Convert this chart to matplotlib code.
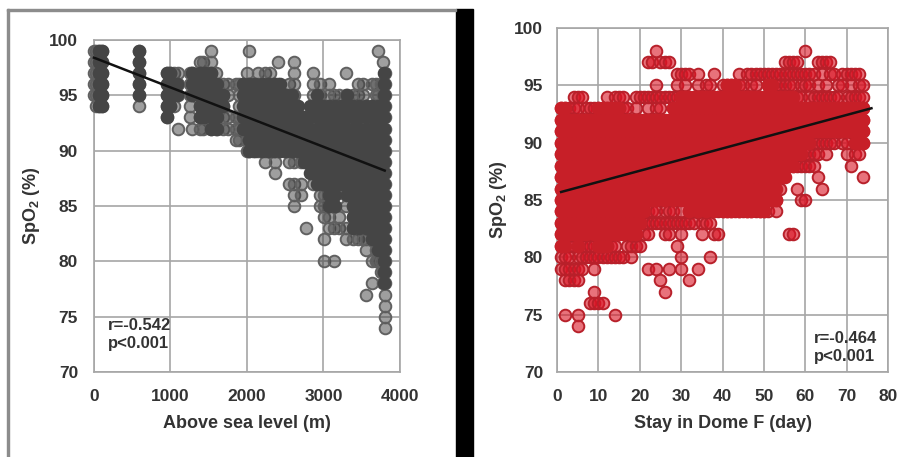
import matplotlib
matplotlib.use('Agg')
import matplotlib.pyplot as plt
from matplotlib.patches import Rectangle

plt.rcParams['font.family'] = ['Liberation Sans', 'DejaVu Sans']
plt.rcParams['font.weight'] = 'bold'
plt.rcParams['mathtext.fontset'] = 'custom'
plt.rcParams['mathtext.bf'] = 'Liberation Sans:bold'
plt.rcParams['mathtext.rm'] = 'Liberation Sans:bold'

# left panel: altitude (m) and the SpO2 readings seen at that altitude
alt_m = [0, 30, 60, 100, 590, 950, 1000, 1050, 1100, 1250, 1280, 1380, 1420, 1530,
         1600, 1680, 1750, 1850, 1900, 2000, 2030, 2080, 2150, 2230, 2300, 2360,
         2400, 2480, 2550, 2620, 2700, 2770, 2860, 2950, 3010, 3070, 3140, 3200,
         3300, 3380, 3450, 3520, 3560, 3630, 3680, 3710, 3750, 3780, 3800]
alt_spo2 = [
    [99, 98, 97, 96, 95],
    [99, 98, 97, 96, 95, 94],
    [99, 98, 97, 96, 95, 94],
    [99, 98, 97, 96, 95, 94],
    [99, 98, 97, 96, 95, 94],
    [97, 96, 95, 94, 93],
    [97, 96, 95, 94],
    [97, 96, 95, 94],
    [97, 96, 95, 92],
    [97, 96, 95, 94, 93],
    [97, 96, 95, 92],
    [98, 97, 96, 95, 94, 93, 92],
    [98, 97, 96, 95, 94, 93, 92],
    [99, 98, 97, 96, 95, 94, 92],
    [97, 96, 95, 94, 93, 92],
    [96, 95, 94, 93, 92],
    [96, 95, 93, 92],
    [96, 93, 92, 91],
    [96, 95, 94, 93, 92, 91],
    [97, 96, 95, 94, 93, 92, 91, 90],
    [99, 96, 95, 94, 93, 92, 91, 90],
    [96, 95, 94, 93, 92, 91, 90],
    [97, 96, 95, 94, 93, 92, 91, 90],
    [97, 96, 95, 94, 93, 92, 91, 90, 89],
    [97, 96, 95, 94, 93, 92, 91, 90],
    [96, 95, 94, 93, 92, 91, 90, 89, 88],
    [98, 96, 95, 94, 93, 92, 91, 90],
    [95, 94, 93, 92, 91, 90],
    [96, 95, 94, 93, 92, 91, 90, 89, 87],
    [98, 97, 96, 95, 93, 92, 91, 90, 89, 87, 86, 85],
    [93, 92, 91, 90, 89, 87, 86],
    [92, 91, 90, 83],
    [97, 96, 95, 94, 93, 92, 91, 90, 89, 88, 87],
    [96, 95, 94, 93, 92, 91, 90, 89, 88, 87, 86, 85],
    [94, 93, 92, 91, 90, 89, 88, 87, 86, 85, 84, 82, 80],
    [96, 95, 94, 93, 92, 91, 90, 89, 88, 87, 85, 84, 83],
    [95, 94, 93, 92, 91, 90, 89, 88, 87, 85, 83, 80],
    [95, 94, 93, 92, 91, 90, 89, 88, 87, 84, 83],
    [97, 95, 94, 93, 92, 91, 90, 89, 88, 87, 86, 85, 83, 82],
    [95, 94, 93, 92, 91, 90, 89, 88, 87, 86, 85, 84, 83, 82],
    [96, 95, 94, 92, 91, 90, 88, 87, 86, 85, 84, 83, 82],
    [96, 95, 94, 93, 92, 91, 90, 89, 88, 87, 86, 85, 84, 83, 82],
    [94, 93, 92, 91, 90, 88, 87, 86, 85, 84, 83, 82, 81, 77],
    [96, 94, 93, 92, 91, 90, 89, 88, 87, 86, 85, 84, 83, 82, 80, 78],
    [96, 95, 94, 93, 92, 91, 90, 89, 88, 87, 86, 85, 84, 83, 82, 81, 80],
    [99, 95, 94, 93, 92, 91, 90, 89, 88, 87, 86, 85, 84, 83, 82, 81, 80],
    [96, 94, 93, 92, 91, 90, 89, 88, 87, 86, 85, 84, 83, 82, 81, 80, 79],
    [98, 96, 95, 94, 93, 92, 91, 90, 89, 88, 87, 86, 85, 84, 83, 82, 81, 80, 79, 78],
    [97, 96, 95, 94, 93, 92, 91, 90, 89, 88, 87, 86, 85, 84, 83, 82, 81, 80, 79, 78, 77, 76, 75, 74],
]
# where readings pile up and the cloud goes solid: column, top and bottom of the pile
alt_core_x = [60, 100, 590, 950, 1000, 1080, 1280, 1380, 1450, 1530, 1610, 1690, 1950, 2030,
              2110, 2190, 2270, 2350, 2430, 2510, 2590, 2670, 2750, 2830, 2910, 2990, 3070,
              3150, 3230, 3310, 3390, 3470, 3550, 3630, 3710, 3790]
alt_core_top = [99, 99, 99, 97, 97, 96, 97, 97, 97, 97, 96, 95, 96, 96,
                96, 96, 96, 96, 96, 95, 95, 94, 93, 94, 95, 94, 94,
                94, 94, 95, 94, 94, 94, 94, 94, 97]
alt_core_bottom = [94, 94, 95, 93, 94, 95, 95, 93, 93, 92, 92, 94, 92, 90,
                   90, 90, 90, 90, 90, 90, 90, 90, 89, 88, 87, 87, 85,
                   85, 87, 86, 83, 83, 83, 82, 81, 78]
alt_fit_x = [0, 3800]
alt_fit_y = [98.4, 88.2]

# right panel: day of stay and the SpO2 readings seen on that day
stay_day = list(range(1, 75))
stay_spo2 = [
    [93, 92, 91, 90, 89, 88, 87, 86, 85, 84, 83, 82, 81, 80, 79],
    [93, 92, 91, 90, 89, 88, 87, 86, 85, 84, 83, 82, 80, 79, 78, 75],
    [93, 92, 91, 90, 89, 88, 87, 86, 85, 84, 83, 82, 81, 80, 79, 78],
    [94, 93, 92, 91, 90, 89, 88, 87, 86, 85, 84, 83, 82, 81, 79, 78],
    [94, 93, 92, 91, 90, 89, 88, 87, 86, 85, 84, 83, 82, 81, 80, 79, 78, 75, 74],
    [94, 92, 91, 90, 89, 88, 87, 86, 85, 84, 83, 82, 81, 80, 79],
    [93, 92, 91, 90, 89, 88, 87, 86, 85, 84, 83, 82, 81, 80],
    [93, 91, 90, 89, 88, 87, 86, 85, 84, 83, 82, 81, 80, 76],
    [93, 92, 91, 90, 89, 88, 87, 86, 85, 84, 83, 82, 81, 80, 79, 77, 76],
    [93, 92, 91, 90, 89, 88, 87, 86, 85, 84, 83, 82, 81, 80, 76],
    [93, 92, 91, 90, 89, 88, 87, 86, 85, 84, 82, 81, 80, 76],
    [94, 93, 91, 90, 89, 88, 87, 86, 85, 84, 83, 82, 81, 80],
    [93, 92, 91, 90, 89, 88, 87, 86, 85, 84, 83, 82, 81, 80],
    [94, 93, 92, 91, 90, 89, 88, 87, 86, 85, 84, 83, 82, 81, 80, 75],
    [94, 93, 91, 90, 89, 88, 87, 86, 85, 84, 83, 82, 80],
    [94, 93, 92, 91, 90, 89, 88, 87, 86, 85, 84, 83, 82, 80],
    [93, 92, 91, 90, 89, 88, 87, 86, 85, 84, 83, 82, 81],
    [92, 91, 90, 89, 88, 87, 86, 85, 84, 83, 82, 81, 80],
    [94, 93, 91, 90, 89, 88, 87, 86, 85, 84, 83, 82, 81],
    [94, 92, 91, 90, 89, 88, 87, 86, 85, 84, 83, 81],
    [94, 92, 91, 90, 89, 88, 87, 86, 85, 84, 83, 82],
    [97, 94, 93, 91, 90, 89, 88, 87, 86, 85, 84, 83, 82, 79],
    [97, 94, 92, 91, 90, 89, 88, 87, 86, 85, 84, 83],
    [98, 95, 94, 93, 92, 91, 90, 89, 88, 87, 86, 85, 84, 83, 79],
    [97, 94, 93, 92, 91, 90, 89, 88, 86, 85, 83, 78],
    [97, 94, 91, 90, 89, 88, 87, 86, 85, 84, 83, 82, 77],
    [97, 94, 92, 91, 90, 89, 88, 87, 86, 85, 84, 83, 82, 79],
    [94, 93, 92, 91, 90, 89, 88, 87, 85, 84, 83],
    [96, 95, 94, 93, 92, 91, 90, 89, 88, 87, 85, 83, 81],
    [96, 94, 93, 92, 91, 90, 89, 88, 87, 86, 84, 83, 82, 80, 79],
    [96, 95, 94, 93, 92, 91, 90, 89, 88, 87, 86, 85, 83],
    [96, 94, 93, 92, 91, 90, 89, 88, 87, 86, 84, 83, 78],
    [94, 93, 92, 91, 90, 89, 88, 87, 86, 85, 84, 83],
    [96, 95, 94, 93, 92, 91, 90, 89, 88, 87, 85, 84, 79],
    [94, 93, 92, 91, 90, 89, 88, 87, 86, 85, 84, 83, 82],
    [95, 94, 93, 92, 91, 90, 89, 88, 87, 86, 84, 83],
    [95, 94, 93, 92, 91, 90, 89, 88, 87, 86, 85, 83, 80],
    [96, 94, 93, 92, 91, 90, 89, 88, 87, 86, 85, 84, 82],
    [94, 93, 92, 91, 90, 89, 88, 87, 86, 84, 82],
    [95, 94, 93, 92, 91, 90, 89, 88, 87, 86, 85, 84],
    [95, 94, 93, 92, 91, 90, 89, 88, 87, 85, 84],
    [95, 94, 93, 92, 91, 90, 89, 88, 87, 86, 85, 84],
    [95, 94, 93, 92, 91, 90, 89, 88, 86, 85, 84],
    [96, 95, 94, 93, 91, 90, 89, 88, 87, 86, 85, 84],
    [95, 94, 93, 92, 91, 90, 89, 88, 87, 85, 84],
    [96, 94, 93, 92, 91, 90, 89, 88, 87, 86, 85, 84],
    [96, 95, 94, 93, 92, 91, 90, 89, 88, 87, 85, 84],
    [96, 95, 94, 93, 92, 91, 90, 89, 88, 86, 85, 84],
    [96, 94, 93, 92, 91, 90, 89, 88, 87, 86, 85, 84],
    [96, 94, 93, 92, 91, 90, 89, 88, 87, 85, 84],
    [96, 95, 94, 93, 92, 91, 90, 89, 88, 87, 86, 84],
    [96, 95, 93, 92, 91, 90, 89, 88, 87, 86, 85],
    [96, 95, 94, 93, 92, 91, 90, 89, 88, 87, 85, 84],
    [96, 95, 94, 93, 92, 91, 90, 89, 88, 87, 86],
    [97, 96, 95, 93, 92, 91, 90, 89, 88],
    [97, 96, 95, 94, 93, 92, 91, 90, 89, 88, 82],
    [97, 96, 95, 93, 92, 91, 90, 89, 88, 82],
    [97, 96, 94, 93, 92, 91, 90, 89, 88, 86],
    [96, 95, 94, 93, 92, 91, 90, 89, 88, 85],
    [98, 96, 95, 93, 92, 91, 90, 89, 88, 85],
    [96, 95, 94, 93, 92, 90, 89, 88],
    [96, 94, 93, 92, 91, 90, 89, 88],
    [97, 95, 94, 93, 92, 90, 89, 87],
    [97, 96, 94, 93, 92, 91, 90, 86],
    [97, 95, 94, 93, 92, 91, 90, 89],
    [97, 96, 94, 93, 92, 91, 90],
    [96, 94, 93, 92, 91, 90],
    [95, 94, 93, 92, 91],
    [96, 95, 93, 92, 90],
    [96, 94, 93, 92, 91, 90, 89],
    [96, 95, 94, 93, 91, 88],
    [96, 94, 93, 92, 91, 90, 89],
    [96, 95, 94, 93, 92, 91, 89],
    [95, 94, 93, 92, 91, 90, 87],
]
stay_core_top = [93, 93, 92, 92, 92, 92, 92, 92, 92, 93, 93, 93, 93, 93, 93, 92, 92, 92, 92, 92,
                 92, 92, 92, 92, 92, 92, 92, 93, 93, 94, 94, 94, 94, 94, 94, 94, 94, 94, 94, 94,
                 95, 95, 95, 94, 94, 94, 94, 94, 94, 94, 95, 95, 94, 94, 94, 94, 94, 93, 93, 93,
                 93, 93, 93, 93, 93, 93, 93, 93, 93, 93, 93, 93, 93, 93]
stay_core_bottom = [81, 81, 82, 82, 81, 82, 82, 83, 82, 81, 81, 81, 82, 82, 82, 82, 83, 82, 82, 83,
                    84, 85, 85, 85, 86, 85, 86, 85, 86, 85, 85, 84, 85, 84, 85, 84, 85, 84, 85, 84,
                    84, 84, 85, 84, 85, 84, 84, 85, 84, 84, 85, 85, 85, 87, 87, 88, 88, 89, 89, 90,
                    90, 91, 91, 91, 91, 91, 91, 91, 91, 91, 91, 90, 90, 90]
stay_fit_x = [1, 76]
stay_fit_y = [85.7, 93.0]

alt_ticks = [0, 1000, 2000, 3000, 4000]
stay_ticks = [0, 10, 20, 30, 40, 50, 60, 70, 80]
spo2_ticks = [70, 75, 80, 85, 90, 95, 100]

W, H = 912, 457
ink = '#333333'


def pixel_axes(fig, x0, x1, y_top, y_bottom):
    return fig.add_axes([x0 / W, 1 - y_bottom / H, (x1 - x0) / W, (y_bottom - y_top) / H])


def draw_panel(ax, xs, ys, core_x, core_top, core_bottom, fit_x, fit_y, xticks, xlim, xlabel,
               face, edge, solid):
    px = [x for x, col in zip(xs, ys) for _ in col]
    py = [v for col in ys for v in col]
    ax.scatter(px, py, s=70, facecolor=face, edgecolor=edge, linewidth=1.4, clip_on=False, zorder=3)
    cx = []
    cy = []
    for x, top, bottom in zip(core_x, core_top, core_bottom):
        for v in range(bottom, top + 1):
            cx.append(x)
            cy.append(v)
    ax.scatter(cx, cy, s=70, facecolor=solid, edgecolor=solid, linewidth=1.4, clip_on=False, zorder=3)
    ax.plot(fit_x, fit_y, color='#111111', lw=1.8, zorder=4, clip_on=False)
    ax.set_xlim(xlim)
    ax.set_ylim(70, 100)
    ax.set_xticks(xticks)
    ax.set_yticks(spo2_ticks)
    ax.grid(True, color='#a6a6a6', lw=1.2)
    ax.set_axisbelow(True)
    ax.tick_params(length=0, labelsize=12.5, labelcolor=ink)
    ax.tick_params(axis='x', pad=12)
    for s in ax.spines.values():
        s.set_color('#a6a6a6')
        s.set_linewidth(1.2)
    ax.set_xlabel(xlabel, fontsize=13, color=ink, fontweight='bold', labelpad=8)
    ax.set_ylabel(r'SpO$_{\mathbf{2}}$ (%)', fontsize=13, color=ink, fontweight='bold')


fig = plt.figure(figsize=(W / 100, H / 100), dpi=100, facecolor='white')

# scan edges of the original figure and the black divider
fig.add_artist(Rectangle((456 / W, 0), 17 / W, 1 - 9 / H, transform=fig.transFigure, color='black'))
fig.add_artist(Rectangle((7 / W, 0), 2 / W, 1 - 9 / H, transform=fig.transFigure, color='#8c8c8c'))
fig.add_artist(Rectangle((7 / W, 1 - 11 / H), 449 / W, 2 / H, transform=fig.transFigure, color='#8c8c8c'))

ax1 = pixel_axes(fig, 94, 400, 40, 372)
draw_panel(ax1, alt_m, alt_spo2, alt_core_x, alt_core_top, alt_core_bottom, alt_fit_x, alt_fit_y,
           alt_ticks, (0, 4000), 'Above sea level (m)',
           (0.25, 0.25, 0.25, 0.5), '#606060', '#454545')
ax1.tick_params(axis='y', pad=11.5)
ax1.yaxis.set_label_coords(-0.17, 0.5)
ax1.text(183, 74.9, 'r=-0.542\np<0.001', fontsize=12, color=ink, va='top', linespacing=1.3, zorder=5)

ax2 = pixel_axes(fig, 557, 888, 28, 372)
draw_panel(ax2, stay_day, stay_spo2, stay_day, stay_core_top, stay_core_bottom, stay_fit_x, stay_fit_y,
           stay_ticks, (0, 80), 'Stay in Dome F (day)',
           (0.85, 0.08, 0.14, 0.6), '#b8202a', '#c71f28')
ax2.tick_params(axis='y', pad=10)
ax2.yaxis.set_label_coords(-0.145, 0.5)
ax2.text(62.2, 73.6, 'r=-0.464\np<0.001', fontsize=12, color=ink, va='top', linespacing=1.3, zorder=5)

fig.savefig('out.png', dpi=100)
